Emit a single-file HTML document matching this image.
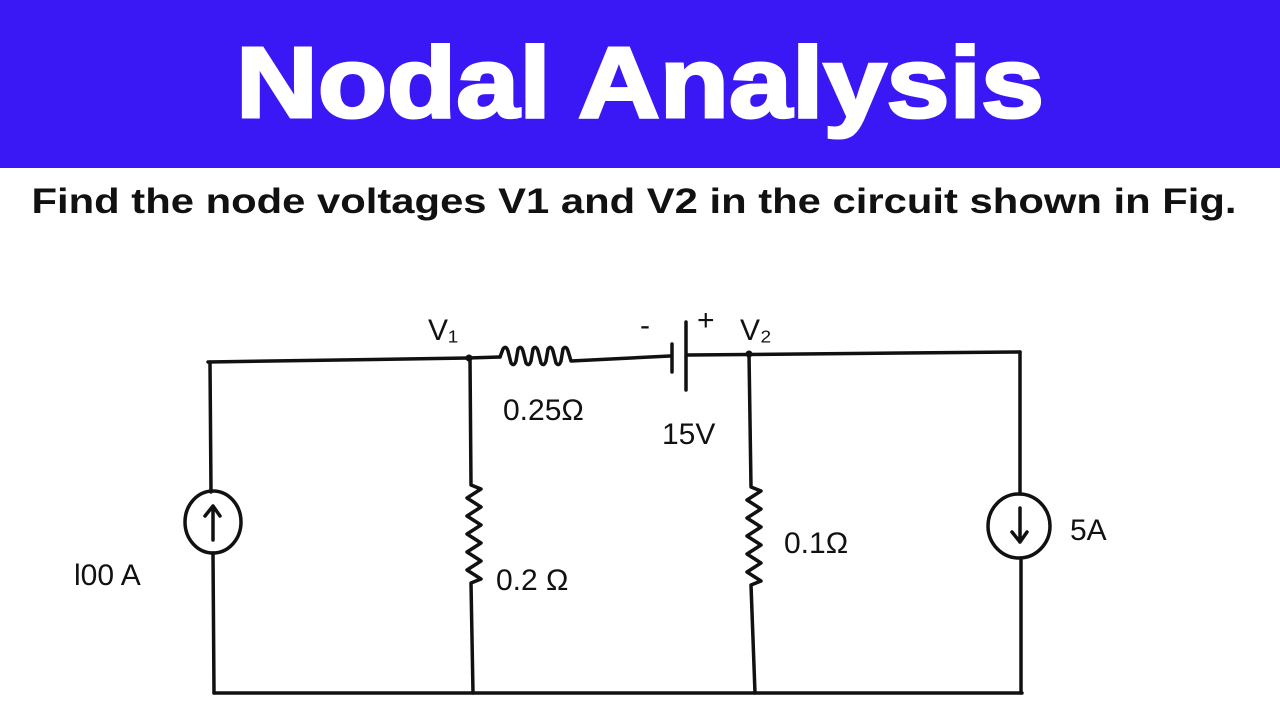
<!DOCTYPE html>
<html><head><meta charset="utf-8"><style>
html,body{margin:0;padding:0;width:1280px;height:720px;overflow:hidden;background:#fff}
svg{display:block}
</style></head><body>
<svg width="1280" height="720" viewBox="0 0 1280 720" xmlns="http://www.w3.org/2000/svg">
<rect x="0" y="0" width="1280" height="168" fill="#3a17f5"/>
<text x="640" y="117" text-anchor="middle" font-family="Liberation Sans, sans-serif" font-weight="bold" font-size="100" fill="#fff" stroke="#fff" stroke-width="3" textLength="808" lengthAdjust="spacingAndGlyphs">Nodal Analysis</text>
<text x="634" y="213" text-anchor="middle" font-family="Liberation Sans, sans-serif" font-weight="bold" font-size="35" fill="#111" textLength="1205" lengthAdjust="spacingAndGlyphs">Find the node voltages V1 and V2 in the circuit shown in Fig.</text>
<g stroke="#111" stroke-width="3.5" fill="none" stroke-linecap="round" stroke-linejoin="round">
<path d="M208 362 L468 358 L500 357"/>
<path d="M500 357 l3 -8 q3 -4 5 2 l3 12 q3 4 5 -2 l2 -12 q3 -4 5 2 l3 12 q3 4 5 -2 l2 -12 q3 -4 5 2 l3 12 q3 4 5 -2 l2 -12 q3 -4 5 2 l3 12 q3 4 5 -2 l2 -12 q3 -4 5 2 l3 10 L670 356"/>
<path d="M672 344 L672 372"/>
<path d="M686 322 L686 390"/>
<path d="M688 355 L1020 352"/>
<path d="M210 362 L211 492"/>
<ellipse cx="213" cy="522" rx="28" ry="31"/>
<path d="M213 540 L213 506 M205 516 L213 506 L220 516"/>
<path d="M213 553 L214 693"/>
<path d="M470 358 L471 485 l10 4 l-14 9 l14 9 l-14 9 l14 9 l-14 9 l14 9 l-14 9 l14 9 l-14 9 l14 9 l-10 4 L473 693"/>
<path d="M749 354 L751 487 l10 4 l-14 9 l14 9 l-14 9 l14 9 l-14 9 l14 9 l-14 9 l14 9 l-14 9 l14 9 l-10 4 L755 693"/>
<path d="M1020 352 L1020 494"/>
<ellipse cx="1019" cy="526" rx="31" ry="32"/>
<path d="M1020 508 L1020 542 M1012 532 L1020 542 L1027 532"/>
<path d="M1021 558 L1021 693"/>
<path d="M214 693 L1022 693"/>
</g>
<circle cx="469" cy="358" r="3.5" fill="#111"/>
<circle cx="749" cy="354" r="3.5" fill="#111"/>
<g font-family="Liberation Sans, sans-serif" font-size="30" fill="#111">
<text x="428" y="340">V₁</text>
<text x="740" y="340">V₂</text>
<text x="640" y="335">-</text>
<text x="697" y="330">+</text>
<text x="503" y="420">0.25Ω</text>
<text x="662" y="444">15V</text>
<text x="74" y="585">l00 A</text>
<text x="496" y="590">0.2 Ω</text>
<text x="784" y="553">0.1Ω</text>
<text x="1070" y="540">5A</text>
</g>
</svg>
</body></html>
